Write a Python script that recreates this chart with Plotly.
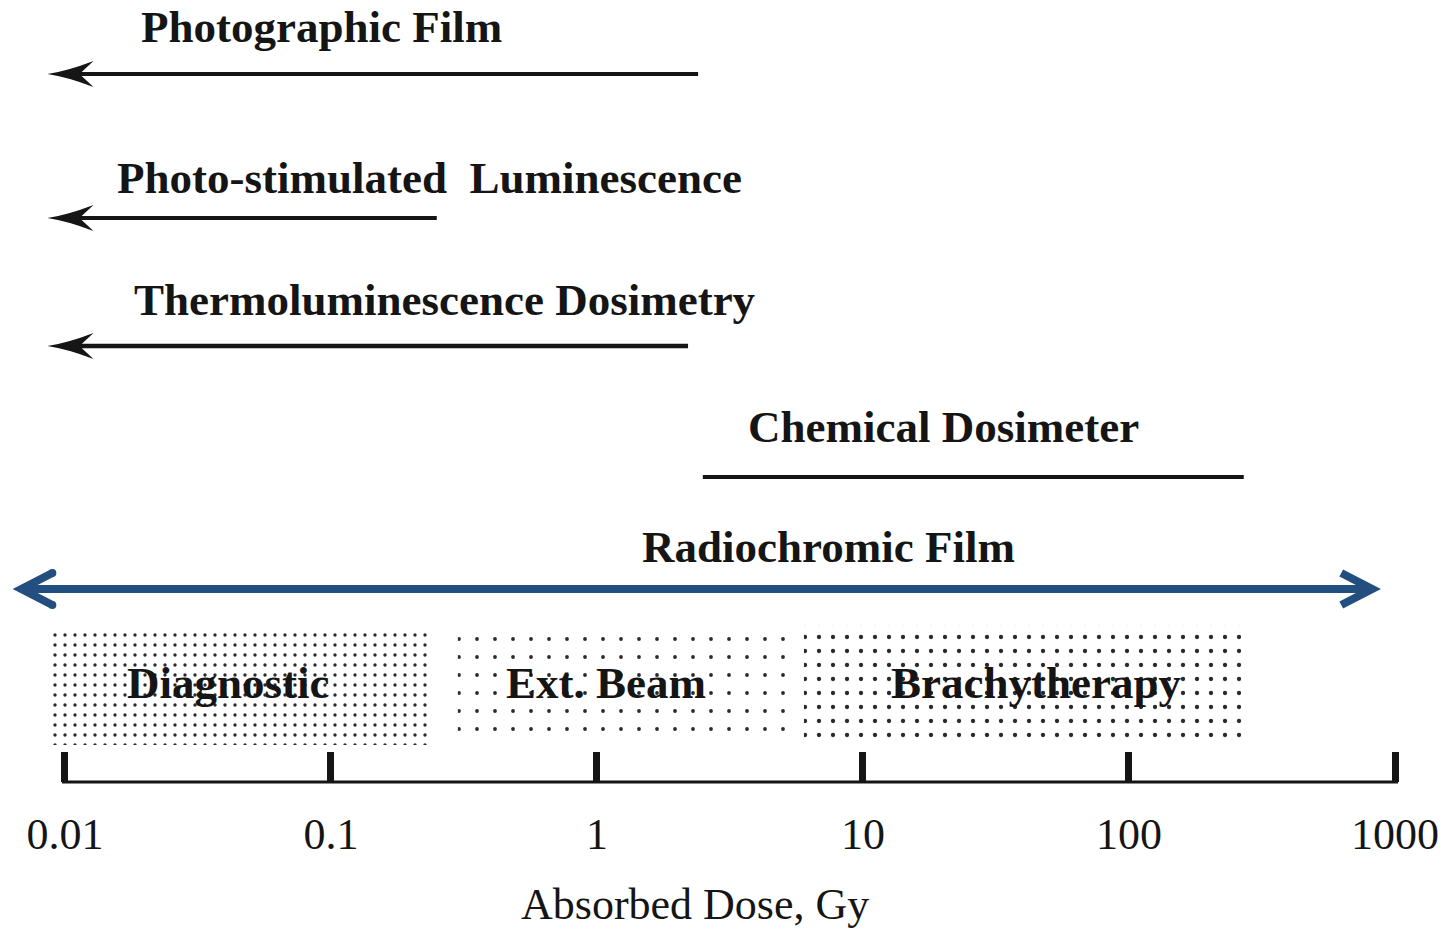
import plotly.graph_objects as go

# ---------------- data ----------------
tick_vals = [0.01, 0.1, 1, 10, 100, 1000]
tick_text = ["0.01", "0.1", "1", "10", "100", "1000"]

detectors = ["Photographic Film",
             "Photo-stimulated\u00a0 Luminescence",
             "Thermoluminescence Dosimetry",
             "Chemical Dosimeter",
             "Radiochromic Film"]
det_low = [0.0086, 0.0086, 0.0086, 2.5, 0.0064]      # Gy
det_high = [2.4, 0.25, 2.2, 270, 880]                 # Gy
det_arrow = ["left", "left", "left", "none", "both"]

applications = ["Diagnostic", "Ext. Beam", "Brachytherapy"]
app_low = [0.0086, 0.30, 6.0]                         # Gy
app_high = [0.23, 5.1, 285]                           # Gy

axis_title = "Absorbed Dose, Gy"

# ---------------- layout / style ----------------
W, H = 1453, 930
MB = 140                      # bottom margin
PH = H - MB                   # plot height (y data units == pixels)
XR = [-2.244, 3.218]          # log10 range
PX_PER_DEC = W / (XR[1] - XR[0])
AXIS_Y = 782

det_y = [74, 218, 346, 477, 589]
det_width = [4, 4, 4.5, 4, 8]
label_x_px = [321, 430, 445, 943, 829]
label_y = [27, 178, 300, 427, 547]

app_y = [686, 688, 685]
app_h = [118, 113, 120]
app_label_x_px = [228, 606, 1036]
app_label_y = 683
app_patterns = [dict(shape=".", size=10, solidity=0.09),
                dict(shape=".", size=18, solidity=0.035),
                dict(shape=".", size=14, solidity=0.075)]

BLUE = "#234e80"
INK = "#151515"
SERIF = "Liberation Serif, Times New Roman, serif"

fig = go.Figure()

# application bands (stippled)
for name, lo, hi, yc, h, pat in zip(applications, app_low, app_high, app_y, app_h, app_patterns):
    fig.add_trace(go.Bar(
        orientation="h", y=[yc], x=[hi - lo], base=[lo], width=[h],
        marker=dict(color="white", line=dict(width=0),
                    pattern=dict(fgcolor="#2a2a2a", bgcolor="white", fillmode="replace", **pat)),
        showlegend=False, hoverinfo="skip"))

shapes = []
def shift(v, px):
    return v * 10 ** (px / PX_PER_DEC)

for name, lo, hi, y, kind, lw in zip(detectors, det_low, det_high, det_y, det_arrow, det_width):
    if kind == "left":
        x0, x1, col = shift(lo, 30), hi, INK
    elif kind == "both":
        x0, x1, col = shift(lo, 8), shift(hi, -8), BLUE
    else:
        x0, x1, col = lo, hi, INK
    fig.add_trace(go.Scatter(x=[x0, x1], y=[y, y], mode="lines",
                             line=dict(color=col, width=lw),
                             showlegend=False, hoverinfo="skip"))
    if kind == "left":
        shapes.append(dict(type="path", xref="x", yref="y", xsizemode="pixel", ysizemode="pixel",
                           xanchor=lo, yanchor=y,
                           path="M0,0 Q20,3 46,13 L32,0 L46,-13 Q20,-3 0,0 Z",
                           fillcolor=INK, line=dict(width=0)))
    if kind == "both":
        for anchor, sgn in ((lo, 1), (hi, -1)):
            shapes.append(dict(type="path", xref="x", yref="y", xsizemode="pixel", ysizemode="pixel",
                               xanchor=anchor, yanchor=y,
                               path=f"M{39*sgn},16 L{8*sgn},0 L{39*sgn},-16",
                               line=dict(color=BLUE, width=8)))
            for yy in (16, -16):
                shapes.append(dict(type="circle", xref="x", yref="y", xsizemode="pixel",
                                   ysizemode="pixel", xanchor=anchor, yanchor=y,
                                   x0=39 * sgn - 4, x1=39 * sgn + 4, y0=yy - 4, y1=yy + 4,
                                   fillcolor=BLUE, line=dict(width=0)))

# axis base line
fig.add_trace(go.Scatter(x=[tick_vals[0] / 10 ** (3 / PX_PER_DEC), tick_vals[-1] * 10 ** (3 / PX_PER_DEC)],
                         y=[AXIS_Y, AXIS_Y], mode="lines", line=dict(color=INK, width=3),
                         showlegend=False, hoverinfo="skip"))

annotations = []
for name, xp, yl in zip(detectors, label_x_px, label_y):
    annotations.append(dict(text=f"<b>{name}</b>", xref="paper", yref="y", x=xp / W, y=yl,
                            showarrow=False, xanchor="center", yanchor="middle",
                            font=dict(family=SERIF, size=45, color=INK)))
for name, xp in zip(applications, app_label_x_px):
    annotations.append(dict(text=f"<b>{name}</b>", xref="paper", yref="y", x=xp / W, y=app_label_y,
                            showarrow=False, xanchor="center", yanchor="middle",
                            font=dict(family=SERIF, size=45, color=INK)))
annotations.append(dict(text=axis_title, xref="paper", yref="paper", x=695 / W,
                        y=(PH - 905) / PH, showarrow=False, xanchor="center", yanchor="middle",
                        font=dict(family=SERIF, size=44, color=INK)))

fig.update_layout(
    width=W, height=H, margin=dict(l=0, r=0, t=0, b=MB),
    paper_bgcolor="white", plot_bgcolor="white",
    barmode="overlay", showlegend=False,
    shapes=shapes, annotations=annotations,
    xaxis=dict(type="log", range=XR, showgrid=False, zeroline=False, showline=False,
               anchor="free", position=(PH - AXIS_Y) / PH,
               ticks="inside", ticklen=30, tickwidth=7, tickcolor=INK,
               tickvals=tick_vals, ticktext=tick_text, ticklabelstandoff=22,
               tickfont=dict(family=SERIF, size=44, color=INK)),
    yaxis=dict(range=[PH, 0], visible=False, showgrid=False, zeroline=False),
)

fig.write_html("out.html")
